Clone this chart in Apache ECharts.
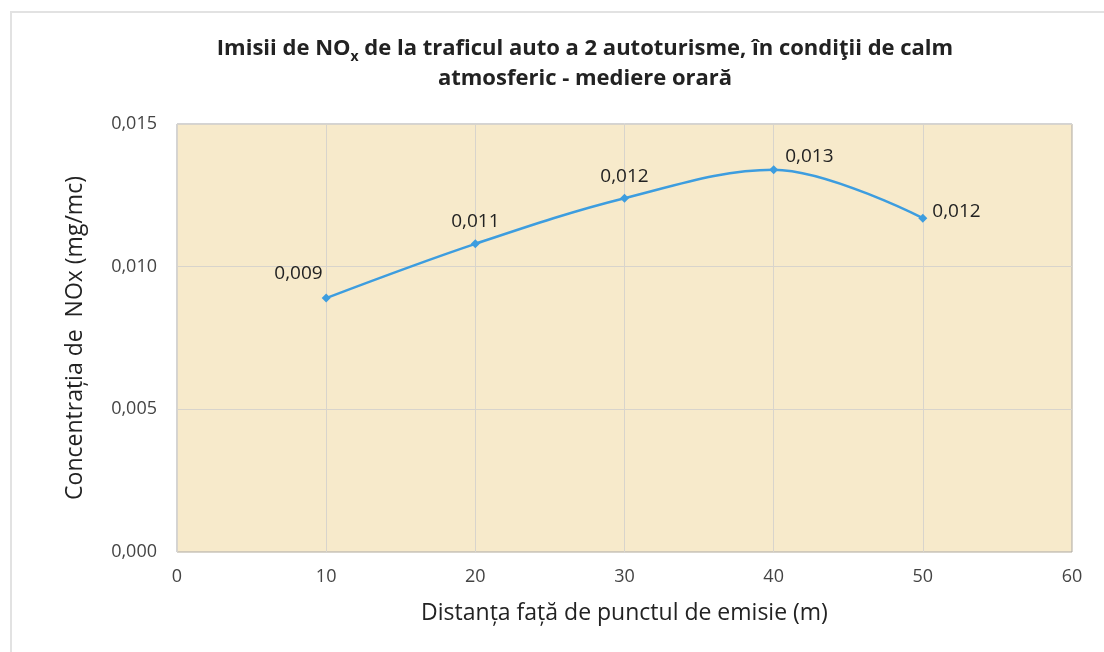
<!DOCTYPE html>
<html>
<head>
<meta charset="utf-8">
<script src="https://cdn.jsdelivr.net/npm/echarts@6/dist/echarts.min.js"></script>
<style>
  html, body { margin: 0; padding: 0; background: #fff; }
  #chart1 { width: 1104px; height: 652px; }
</style>
</head>
<body>
<div id="chart1"></div>
<script>
// data
var distances = [10, 20, 30, 40, 50];
var nox = [0.0089, 0.0108, 0.0124, 0.0134, 0.0117];
var labelPlace = ['left', 'top', 'top', 'right', 'right'];

var chartDom = document.getElementById('chart1');
var myChart = echarts.init(chartDom);
var option;

var fmt = function (v, d) {
    return v.toFixed(d).replace('.', ',');
};

var points = distances.map(function (d, i) {
    var pos = labelPlace[i];
    var lbl = {position: pos};
    if (pos === 'left') lbl.offset = [6, -24];
    if (pos === 'top') lbl.offset = [0, -3];
    if (pos === 'right') lbl.offset = i === 3 ? [2, -13] : [0, -7];
    return {value: [d, nox[i]], label: lbl};
});

option = {
    backgroundColor: '#fff',
    textStyle: {fontFamily: 'Open Sans'},
    graphic: [{
        type: 'rect',
        shape: {x: 11, y: 12, width: 1200, height: 800},
        style: {fill: 'none', stroke: '#e2e2e2', lineWidth: 2},
        silent: true
    }],
    title: {
        text: '{t|Imisii de NO}{s|x}{t| de la traficul auto a 2 autoturisme, în condiţii de calm}\n{t|atmosferic - mediere orară}',
        left: 580,
        top: 29,
        textAlign: 'center',
        textStyle: {
            rich: {
                t: {fontFamily: 'Open Sans', fontWeight: 'bold', fontSize: 22, color: '#222', lineHeight: 30},
                s: {fontFamily: 'Open Sans', fontWeight: 'bold', fontSize: 14, color: '#222', verticalAlign: 'bottom', padding: [12, 0, 0, 0], lineHeight: 30}
            }
        }
    },
    grid: {
        left: 177,
        right: 32,
        top: 124,
        bottom: 100,
        show: true,
        backgroundColor: '#f7eacb',
        borderColor: '#a8a8a8',
        borderWidth: 1
    },
    xAxis: {
        type: 'value',
        min: 0,
        max: 60,
        interval: 10,
        name: 'Distanța față de punctul de emisie (m)',
        nameLocation: 'middle',
        nameGap: 50,
        nameTextStyle: {fontSize: 23, color: '#222'},
        axisLine: {show: false},
        axisTick: {show: false},
        axisLabel: {fontSize: 18, color: '#444', margin: 16},
        splitLine: {lineStyle: {color: '#d8d4cc'}}
    },
    yAxis: {
        type: 'value',
        min: 0,
        max: 0.015,
        interval: 0.005,
        name: 'Concentrația de  NOx (mg/mc)',
        nameLocation: 'middle',
        nameGap: 90,
        nameTextStyle: {fontSize: 23, color: '#222'},
        axisLine: {show: false},
        axisTick: {show: false},
        axisLabel: {
            fontSize: 18,
            color: '#444',
            margin: 20,
            formatter: function (v) { return fmt(v, 3); }
        },
        splitLine: {lineStyle: {color: '#d8d4cc'}}
    },
    series: [
        {
            type: 'line',
            smooth: 0.35,
            data: points,
            symbol: 'diamond',
            symbolSize: 9,
            lineStyle: {color: '#3d9ddf', width: 2.5},
            itemStyle: {color: '#3d9ddf'},
            label: {
                show: true,
                fontSize: 19,
                color: '#222',
                formatter: function (p) { return fmt(p.value[1], 3); }
            }
        }
    ]
};

option && myChart.setOption(option);
</script>
</body>
</html>
